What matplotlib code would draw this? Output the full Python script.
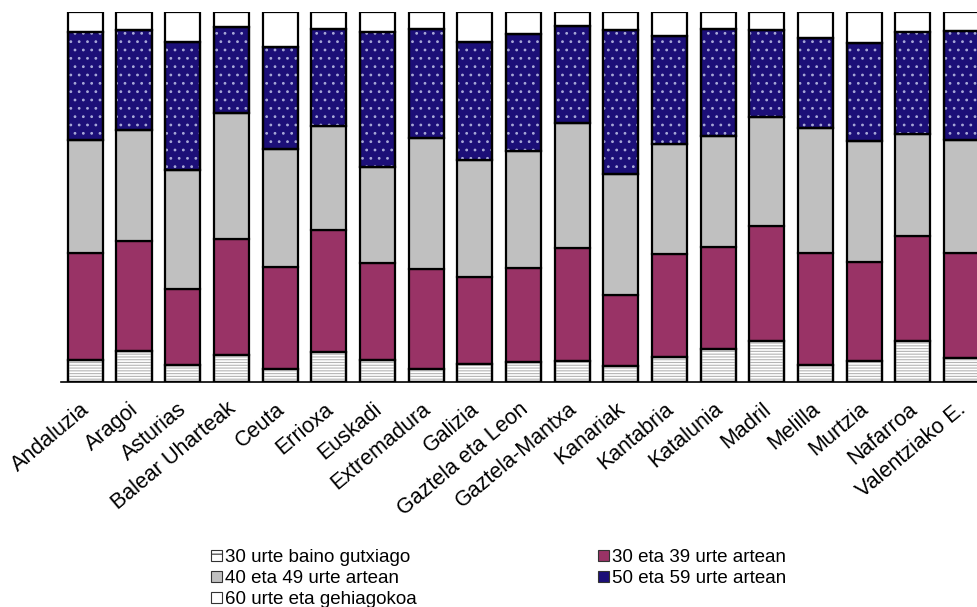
import matplotlib
matplotlib.use("Agg")
import matplotlib.pyplot as plt
import matplotlib.transforms as mtrans
import numpy as np
from matplotlib.patches import Patch

plt.rcParams['font.family'] = ['Liberation Sans', 'DejaVu Sans']
plt.rcParams['hatch.linewidth'] = 0.8

categories = ["Andaluzia", "Aragoi", "Asturias", "Balear Uharteak", "Ceuta", "Errioxa",
              "Euskadi", "Extremadura", "Galizia", "Gaztela eta Leon", "Gaztela-Mantxa",
              "Kanariak", "Kantabria", "Katalunia", "Madril", "Melilla", "Murtzia",
              "Nafarroa", "Valentziako E."]

under30 = [6.0, 8.2, 4.4, 7.1, 3.3, 7.9, 6.0, 3.5, 4.9, 5.2, 5.7, 4.3, 6.7, 8.8, 11.0, 4.4, 5.6, 11.0, 6.3]
a30_39  = [28.9, 29.9, 20.6, 31.6, 27.7, 33.1, 26.0, 26.9, 23.4, 25.6, 30.5, 19.2, 27.9, 27.6, 31.2, 30.4, 26.7, 28.5, 28.4]
a40_49  = [30.6, 30.0, 32.2, 34.1, 31.9, 28.2, 26.0, 35.6, 31.6, 31.6, 33.9, 32.6, 29.8, 30.1, 29.3, 33.9, 32.8, 27.5, 30.7]
a50_59  = [29.1, 27.1, 34.6, 23.2, 27.5, 26.3, 36.7, 29.3, 31.9, 31.7, 26.1, 38.9, 29.2, 28.8, 23.6, 24.2, 26.4, 27.7, 29.4]
over60  = [5.4, 4.8, 8.2, 4.0, 9.6, 4.5, 5.3, 4.7, 8.2, 5.9, 3.8, 5.0, 6.4, 4.7, 4.9, 7.1, 8.5, 5.3, 5.2]

labels = ["30 urte baino gutxiago", "30 eta 39 urte artean", "40 eta 49 urte artean",
          "50 eta 59 urte artean", "60 urte eta gehiagokoa"]
series = [under30, a30_39, a40_49, a50_59, over60]
faces = ["white", "#993366", "#c0c0c0", "#1c0f78", "white"]
hatches = ["------", None, None, "..", None]
hatch_cols = ["#b4b4b4", None, None, "#a8a8d8", None]
legend_hatch = ["--", None, None, None, None]

fig = plt.figure(figsize=(9.77, 6.07), dpi=100)
ax = fig.add_axes([61/977, (607-381.7)/607, 925/977, 369.7/607])

x = np.arange(len(categories))
width = 0.72
bottom = np.zeros(len(categories))
handles = []
for vals, fc, h, hc, lh, lab in zip(series, faces, hatches, hatch_cols, legend_hatch, labels):
    vals = np.array(vals)
    ax.bar(x, vals, width, bottom=bottom, color=fc, edgecolor="black", linewidth=1.6, zorder=2)
    if h:
        ax.bar(x, vals, width, bottom=bottom, color="none", edgecolor=hc, hatch=h,
               linewidth=0, zorder=3)
        ax.bar(x, vals, width, bottom=bottom, color="none", edgecolor="black",
               linewidth=1.6, zorder=4)
    handles.append(Patch(facecolor=fc, edgecolor="#333333", linewidth=0.8, hatch=lh))
    bottom += vals

ax.set_xlim(-0.5, len(categories) - 0.5)
ax.set_ylim(0, 100)
for s in ["top", "right", "left"]:
    ax.spines[s].set_visible(False)
ax.spines["bottom"].set_linewidth(1.2)
ax.set_yticks([])
ax.set_xticks(x)
ax.set_xticklabels(categories, rotation=40, ha="right", rotation_mode="anchor", fontsize=15.5)
ax.tick_params(axis="x", length=0, pad=10)
shift = mtrans.ScaledTranslation(-5/100, -3/100, fig.dpi_scale_trans)
for lbl in ax.get_xticklabels():
    lbl.set_transform(lbl.get_transform() + shift)

order = [0, 2, 4, 1, 3]
leg = fig.legend([handles[i] for i in order], [labels[i] for i in order], ncol=2,
                 loc="upper left", bbox_to_anchor=(202/977, 1 - 540/607), frameon=False,
                 fontsize=13.5, handlelength=0.55, handleheight=0.55, handletextpad=0.16,
                 columnspacing=9.7, labelspacing=0.2, borderpad=0)

fig.savefig("out.png", dpi=100)
